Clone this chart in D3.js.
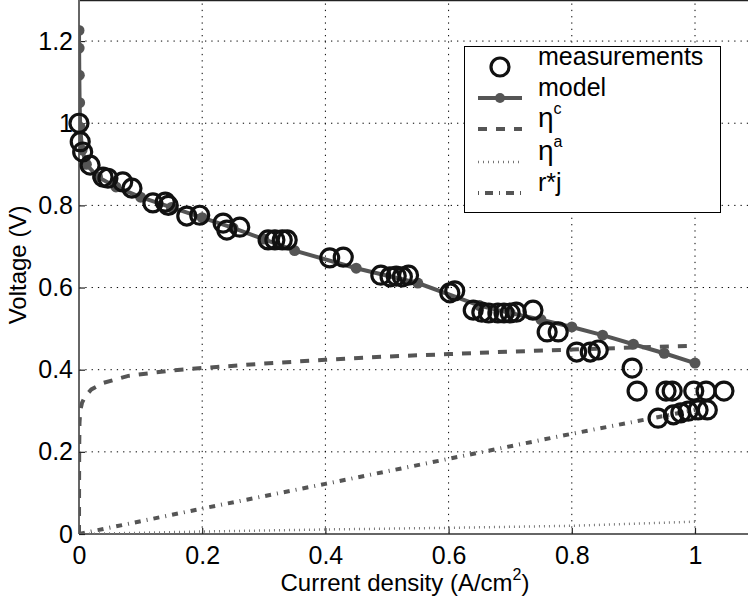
<!DOCTYPE html>
<html>
<head>
<meta charset="utf-8">
<script src="https://cdn.jsdelivr.net/npm/d3@7"></script>
<style>
  html, body { margin: 0; padding: 0; background: #fff; }
  svg { display: block; font-family: "Liberation Sans", Arial, Helvetica, sans-serif; }
</style>
</head>
<body>
<svg id="chart" width="748" height="612"></svg>
<script>
// Polarization curve: measured cell voltage vs. current density, model fit and loss terms
const measurements = [
  [0.0, 1.0], [0.002, 0.955], [0.006, 0.93], [0.018, 0.898], [0.039, 0.869],
  [0.047, 0.866], [0.071, 0.857], [0.086, 0.842], [0.12, 0.806], [0.14, 0.808],
  [0.145, 0.8], [0.175, 0.774], [0.196, 0.776], [0.234, 0.757], [0.24, 0.74],
  [0.261, 0.747], [0.307, 0.716], [0.318, 0.716], [0.33, 0.716], [0.338, 0.716],
  [0.407, 0.672], [0.429, 0.674], [0.49, 0.63], [0.505, 0.626], [0.515, 0.628],
  [0.525, 0.626], [0.535, 0.63], [0.602, 0.587], [0.61, 0.592], [0.64, 0.545],
  [0.654, 0.54], [0.665, 0.538], [0.68, 0.538], [0.69, 0.538], [0.70, 0.538],
  [0.71, 0.54], [0.737, 0.545], [0.76, 0.492], [0.778, 0.492], [0.808, 0.443],
  [0.83, 0.443], [0.843, 0.448], [0.898, 0.404], [0.906, 0.348], [0.953, 0.348],
  [0.963, 0.348], [0.998, 0.348], [1.018, 0.348], [1.047, 0.348], [0.94, 0.282],
  [0.965, 0.29], [0.977, 0.295], [0.989, 0.299], [1.005, 0.302], [1.02, 0.302]
];

const model = [
  [0, 1.226], [0.0002, 1.183], [0.0005, 1.117], [0.001, 1.05], [0.002, 0.99],
  [0.005, 0.935], [0.012, 0.9], [0.03, 0.87], [0.06, 0.845], [0.1, 0.82],
  [0.15, 0.795], [0.2, 0.77], [0.25, 0.745], [0.3, 0.718], [0.35, 0.69],
  [0.45, 0.647], [0.55, 0.611], [0.65, 0.556], [0.7, 0.538], [0.75, 0.522],
  [0.8, 0.504], [0.85, 0.484], [0.9, 0.462], [0.95, 0.44], [1.0, 0.416]
];

const etaC = [
  [0, 0], [0.0001, 0.1], [0.0003, 0.2], [0.0008, 0.27], [0.002, 0.3],
  [0.005, 0.32], [0.01, 0.335], [0.02, 0.352], [0.04, 0.368], [0.08, 0.385],
  [0.15, 0.398], [0.2, 0.404], [0.3, 0.415], [0.4, 0.424], [0.5, 0.432],
  [0.6, 0.438], [0.7, 0.444], [0.8, 0.449], [0.9, 0.454], [0.99, 0.458]
];

const etaA = [
  [0, 0], [0.2, 0.006], [0.4, 0.011], [0.6, 0.015], [0.8, 0.02], [1.0, 0.03]
];

const rj = [
  [0, 0], [0.2, 0.062], [0.4, 0.122], [0.6, 0.183], [0.8, 0.244], [1.0, 0.302]
];

const xTicks = [0, 0.2, 0.4, 0.6, 0.8, 1];
const yTicks = [0, 0.2, 0.4, 0.6, 0.8, 1, 1.2];

const svg = d3.select("#chart");
const plotLeft = 79, plotTop = 0, plotBottom = 534;
const x = d3.scaleLinear().domain([0, 1.1]).range([plotLeft, 756.6]);
const y = d3.scaleLinear().domain([0, 1.3]).range([plotBottom, plotTop]);
const W = 748;

const darkGray = "#555";
const fontSize = 25;

// Grid
const grid = svg.append("g");
grid.selectAll("line.gx").data(xTicks.filter(d => d > 0)).join("line")
  .attr("x1", d => x(d)).attr("x2", d => x(d)).attr("y1", y(0)).attr("y2", y(1.3))
  .attr("stroke", "#000").attr("stroke-width", 1).attr("stroke-dasharray", "1.3,5");
grid.selectAll("line.gy").data(yTicks.filter(d => d > 0)).join("line")
  .attr("x1", x(0)).attr("x2", W).attr("y1", d => y(d)).attr("y2", d => y(d))
  .attr("stroke", "#000").attr("stroke-width", 1).attr("stroke-dasharray", "1.3,5");

// Frame: top border and axes
svg.append("line").attr("x1", plotLeft).attr("x2", W).attr("y1", 0.5).attr("y2", 0.5)
  .attr("stroke", "#222").attr("stroke-width", 1.5);

const xAxis = d3.axisBottom(x).tickValues(xTicks).tickSize(-6).tickPadding(12)
  .tickFormat(d3.format("~g"));
const yAxis = d3.axisLeft(y).tickValues(yTicks).tickSize(-6).tickPadding(6)
  .tickFormat(d3.format("~g"));

const gx = svg.append("g").attr("transform", `translate(0,${plotBottom})`).call(xAxis);
const gy = svg.append("g").attr("transform", `translate(${plotLeft},0)`).call(yAxis);
[gx, gy].forEach(g => {
  g.select(".domain").attr("stroke", "#666").attr("stroke-width", 2);
  g.selectAll(".tick line").attr("stroke", "#222").attr("stroke-width", 1.2);
  g.selectAll(".tick text").attr("fill", "#000").attr("font-size", fontSize)
    .attr("font-family", "Liberation Sans, Arial, sans-serif");
});
gx.select(".domain").attr("d", `M${plotLeft},0H${W}`);
gy.select(".domain").attr("d", `M0,${plotBottom}V0`);

// Plot clip
svg.append("clipPath").attr("id", "plotClip").append("rect")
  .attr("x", plotLeft).attr("y", 0).attr("width", W - plotLeft).attr("height", plotBottom);
const plot = svg.append("g").attr("clip-path", "url(#plotClip)");

const line = d3.line().x(d => x(d[0])).y(d => y(d[1]));

// Loss terms
plot.append("path").datum(etaA).attr("d", line).attr("fill", "none")
  .attr("stroke", "#777").attr("stroke-width", 2.5).attr("stroke-dasharray", "1,4");
plot.append("path").datum(rj).attr("d", line).attr("fill", "none")
  .attr("stroke", darkGray).attr("stroke-width", 4).attr("stroke-dasharray", "6,6,1,6");
plot.append("path").datum(etaC).attr("d", line).attr("fill", "none")
  .attr("stroke", darkGray).attr("stroke-width", 4).attr("stroke-dasharray", "9,9");

// Model
plot.append("path").datum(model).attr("d", line).attr("fill", "none")
  .attr("stroke", darkGray).attr("stroke-width", 4);
plot.selectAll("circle.model").data(model).join("circle").attr("class", "model")
  .attr("cx", d => x(d[0])).attr("cy", d => y(d[1])).attr("r", 5.5)
  .attr("fill", darkGray);

// Measurements
svg.append("g").selectAll("circle").data(measurements).join("circle")
  .attr("cx", d => x(d[0])).attr("cy", d => y(d[1])).attr("r", 9)
  .attr("fill", "none").attr("stroke", "#111").attr("stroke-width", 3.2);

// Axis titles
const xt = svg.append("text").attr("x", 405).attr("y", 591).attr("text-anchor", "middle")
  .attr("font-size", fontSize - 1).attr("fill", "#000");
xt.append("tspan").text("Current density (A/cm");
xt.append("tspan").attr("font-size", 16).attr("dy", -11).text("2");
xt.append("tspan").attr("dy", 11).text(")");

svg.append("text").attr("transform", "translate(26,265) rotate(-90)")
  .attr("text-anchor", "middle").attr("font-size", fontSize - 1).attr("fill", "#000")
  .text("Voltage (V)");

// Legend
const legend = svg.append("g");
legend.append("rect").attr("x", 464.5).attr("y", 46.5).attr("width", 256).attr("height", 166)
  .attr("fill", "#fff").attr("stroke", "#000").attr("stroke-width", 1);

const labels = ["measurements", "model", "η", "η", "r*j"];
const supers = [null, null, "c", "a", null];
const rowY = [67, 98, 129, 162, 193];
const symX0 = 478, symX1 = 522, textX = 538;

labels.forEach((lab, i) => {
  const t = legend.append("text").attr("x", textX).attr("y", rowY[i] - 2)
    .attr("font-size", fontSize).attr("fill", "#000");
  t.append("tspan").attr("font-size", lab === "η" ? 28 : fontSize).text(lab);
  if (supers[i]) t.append("tspan").attr("font-size", 16).attr("dy", -13).text(supers[i]);
});

legend.append("circle").attr("cx", 500).attr("cy", rowY[0]).attr("r", 9)
  .attr("fill", "none").attr("stroke", "#111").attr("stroke-width", 3.2);
legend.append("line").attr("x1", symX0).attr("x2", symX1).attr("y1", rowY[1]).attr("y2", rowY[1])
  .attr("stroke", darkGray).attr("stroke-width", 4);
legend.append("circle").attr("cx", 500).attr("cy", rowY[1]).attr("r", 5).attr("fill", darkGray);
legend.append("line").attr("x1", symX0).attr("x2", symX1).attr("y1", rowY[2]).attr("y2", rowY[2])
  .attr("stroke", darkGray).attr("stroke-width", 4).attr("stroke-dasharray", "9,9");
legend.append("line").attr("x1", symX0).attr("x2", symX1).attr("y1", rowY[3]).attr("y2", rowY[3])
  .attr("stroke", "#777").attr("stroke-width", 2.5).attr("stroke-dasharray", "1,4");
legend.append("line").attr("x1", symX0).attr("x2", symX1).attr("y1", rowY[4]).attr("y2", rowY[4])
  .attr("stroke", darkGray).attr("stroke-width", 4).attr("stroke-dasharray", "1,6,8,6");
</script>
</body>
</html>
